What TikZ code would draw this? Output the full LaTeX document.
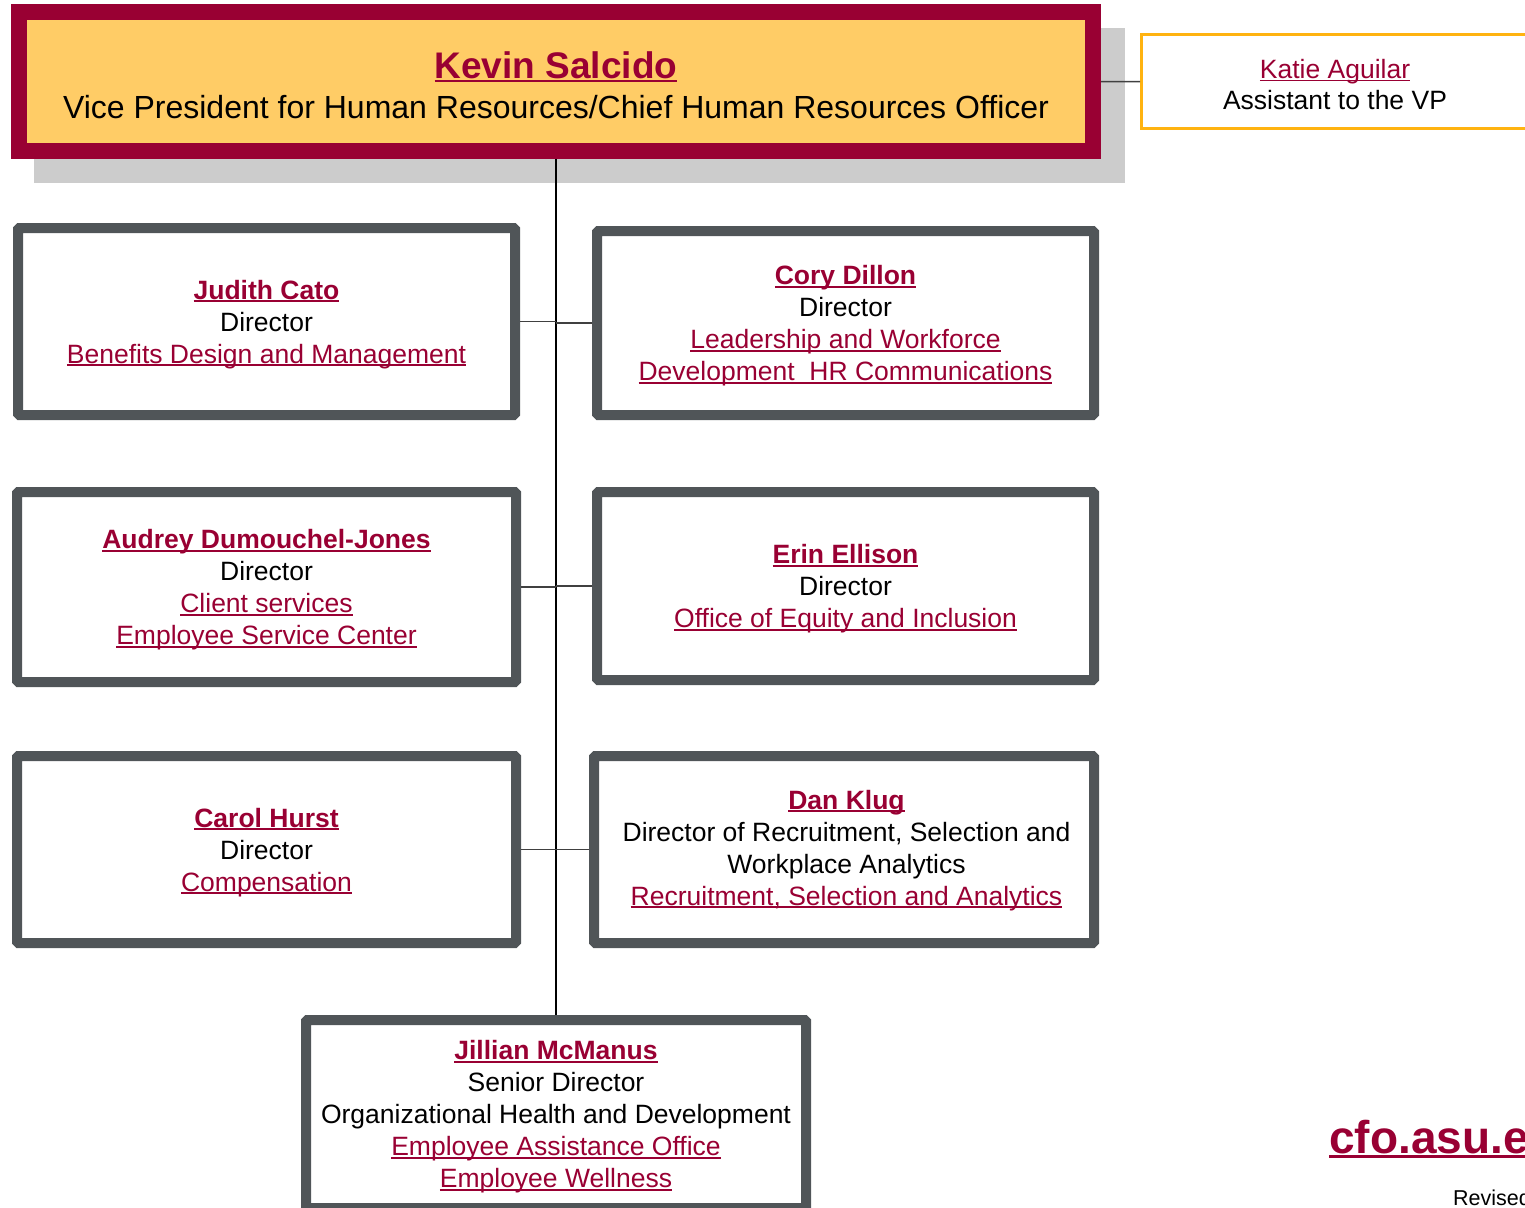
\documentclass[tikz,border=0pt]{standalone}
\usepackage{fontspec}
\setmainfont{Liberation Sans}
\definecolor{asured}{RGB}{153,0,51}
\definecolor{asugold}{RGB}{255,204,102}
\definecolor{boxgray}{RGB}{80,85,88}
\definecolor{shadowgray}{RGB}{204,204,204}
\definecolor{katieorange}{RGB}{255,179,16}
\newcommand{\lnk}[1]{{\color{asured}\setbox0=\hbox{#1}\rlap{\rule[-0.1em]{\wd0}{0.06em}}\box0}}
\tikzset{
  dirbox/.style={draw=boxgray, line width=10pt, fill=white, rounded corners=1.5pt, inner sep=0pt},
  dirtext/.style={align=center, inner sep=0pt, font=\fontsize{26.5}{32}\selectfont},
  conn/.style={draw=black!75, line width=1.5pt},
  trunk/.style={draw=black, line width=2pt},
}
\begin{document}
\begin{tikzpicture}[x=1pt,y=-1pt]
\useasboundingbox (0,0) rectangle (1525,1207);
% shadow of the top box
\fill[shadowgray] (34,28) rectangle (1125,183);
% top box
\node[draw=asured, line width=16pt, fill=asugold, minimum width=1074pt, minimum height=138.7pt,
  inner sep=0pt] (top) at (556,81.6) {};
\node[align=center, inner sep=0pt, font=\fontsize{32}{40}\selectfont] (top-t) at ([yshift=-3.5pt]top.center)
  {{\fontsize{37}{40}\selectfont\bfseries\lnk{Kevin Salcido}}\\
   Vice President for Human Resources/Chief Human Resources Officer};
% assistant
\node[draw=katieorange, line width=3pt, fill=white, minimum width=387pt, minimum height=94pt,
  inner sep=0pt] (katie) at (1335,81.5) {};
\node[align=center, inner sep=0pt, font=\fontsize{26.5}{31}\selectfont] (katie-t) at ([yshift=-3pt]katie.center)
  {\lnk{Katie Aguilar}\\Assistant to the VP};
% directors
\node[dirbox, minimum width=497pt, minimum height=187pt] (judith) at (266.5,321.5) {};
\node[dirtext] (judith-t) at ([yshift=-3pt]judith.center)
  {\lnk{\bfseries Judith Cato}\\Director\\\lnk{Benefits Design and Management}};
\node[dirbox, minimum width=497pt, minimum height=184pt] (cory) at (845.5,323) {};
\node[dirtext] (cory-t) at ([yshift=-3pt]cory.center)
  {\lnk{\bfseries Cory Dillon}\\Director\\\lnk{Leadership and Workforce}\\\lnk{Development\ \ HR Communications}};
\node[dirbox, minimum width=499pt, minimum height=190pt] (audrey) at (266.5,587) {};
\node[dirtext] (audrey-t) at ([yshift=-3pt]audrey.center)
  {\lnk{\bfseries Audrey Dumouchel-Jones}\\Director\\\lnk{Client services}\\\lnk{Employee Service Center}};
\node[dirbox, minimum width=497pt, minimum height=188pt] (erin) at (845.5,586) {};
\node[dirtext] (erin-t) at ([yshift=-3pt]erin.center)
  {\lnk{\bfseries Erin Ellison}\\Director\\\lnk{Office of Equity and Inclusion}};
\node[dirbox, minimum width=499pt, minimum height=187pt] (carol) at (266.5,849.5) {};
\node[dirtext] (carol-t) at ([yshift=-3pt]carol.center)
  {\lnk{\bfseries Carol Hurst}\\Director\\\lnk{Compensation}};
\node[dirbox, minimum width=500pt, minimum height=187pt] (dan) at (844,849.5) {};
\node[dirtext] (dan-t) at ([xshift=2.5pt,yshift=-1pt]dan.center)
  {\lnk{\bfseries Dan Klug}\\Director of Recruitment, Selection and\\Workplace Analytics\\\lnk{Recruitment, Selection and Analytics}};
\node[dirbox, minimum width=500pt, minimum height=188pt] (jill) at (556,1114) {};
\node[dirtext] (jill-t) at ([yshift=-3pt]jill.center)
  {\lnk{\bfseries Jillian McManus}\\Senior Director\\Organizational Health and Development\\\lnk{Employee Assistance Office}\\\lnk{Employee Wellness}};
% connectors
\draw[conn] (top.east) -- (katie.west);
\draw[trunk] (top.south) -- (jill.north);
\draw[conn] (judith.east) -- (judith.east -| top.south);
\draw[conn] (cory.west) -- (cory.west -| top.south);
\draw[conn] (audrey.east) -- (audrey.east -| top.south);
\draw[conn] (erin.west) -- (erin.west -| top.south);
\draw[conn] (carol.east) -- (carol.east -| top.south);
\draw[conn] (dan.west) -- (dan.west -| top.south);
% footer
\node[anchor=base west, inner sep=0pt, font=\fontsize{46}{50}\selectfont\bfseries] (cfo) at (1329,1153)
  {\lnk{cfo.asu.edu}};
\node[anchor=base west, inner sep=0pt, font=\fontsize{21.5}{24}\selectfont] (rev) at (1453,1205) {Revised};
\end{tikzpicture}
\end{document}
